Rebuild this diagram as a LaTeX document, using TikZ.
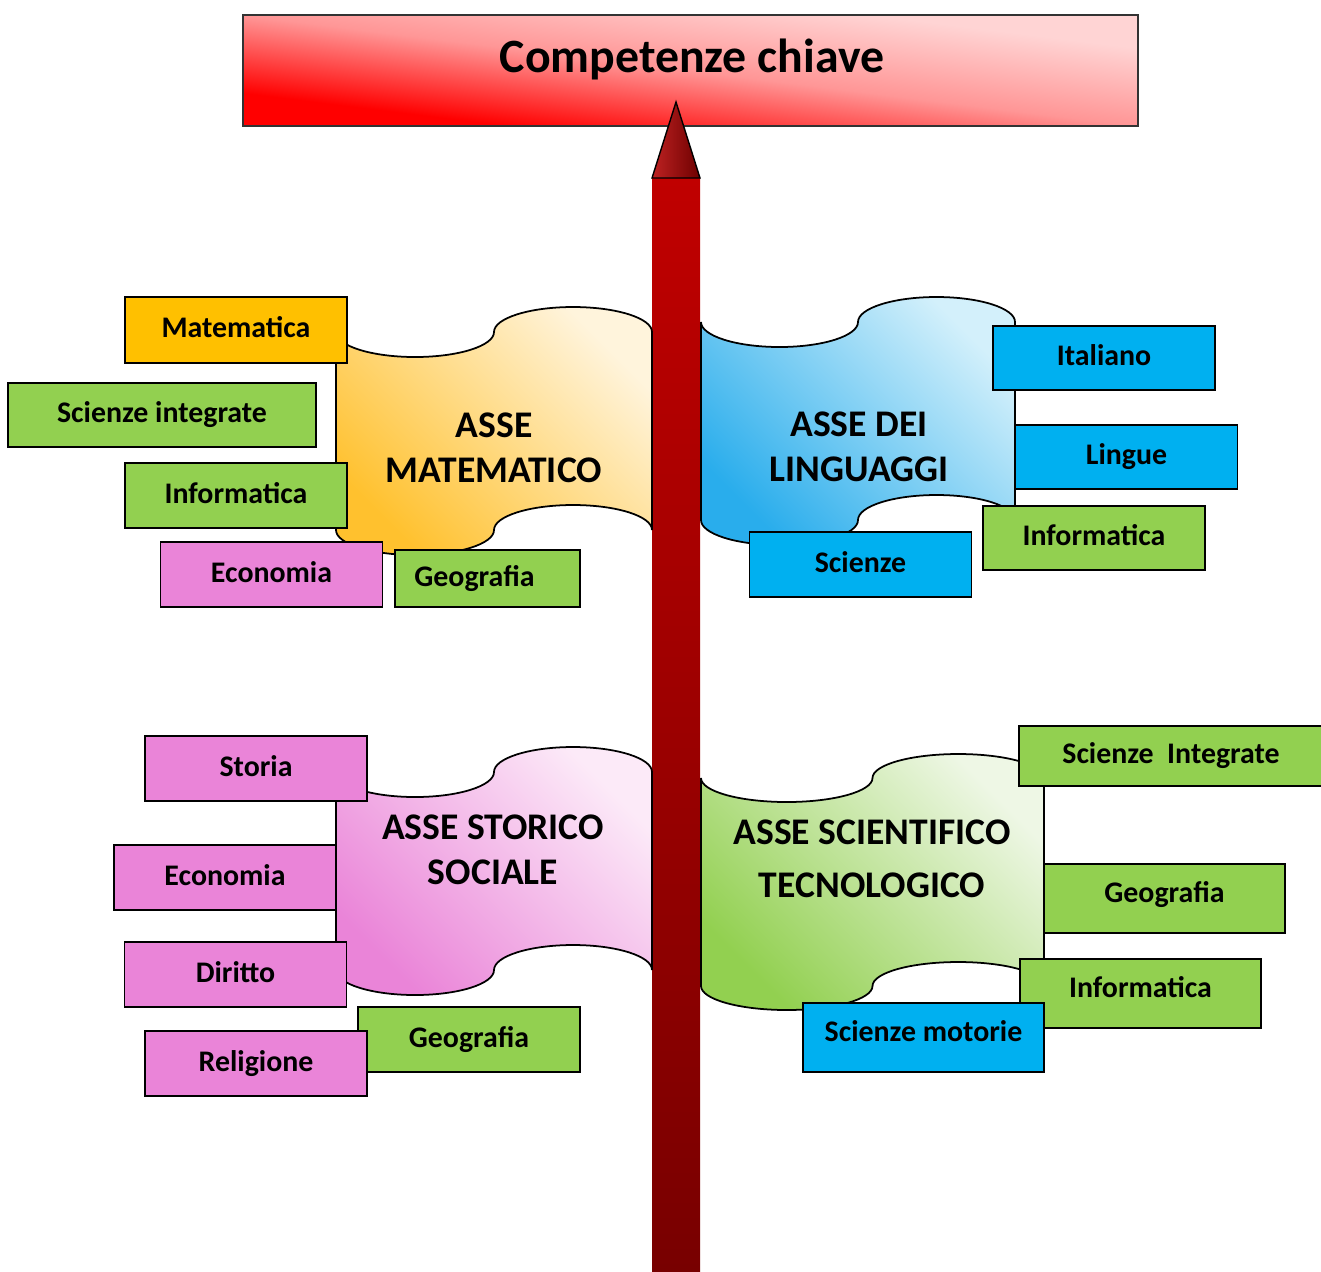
\documentclass[tikz,border=0pt]{standalone}
\usepackage{fontspec}
\setmainfont{Carlito}
\usepackage{xcolor,tikz}
\definecolor{arancio}{HTML}{FFC000}
\definecolor{verde}{HTML}{92D050}
\definecolor{azzurro}{HTML}{00B0F0}
\definecolor{rosa}{HTML}{EA84D8}
\definecolor{matA}{HTML}{FFC12E}
\definecolor{matB}{HTML}{FFF4DC}
\definecolor{linA}{HTML}{29ADEC}
\definecolor{linB}{HTML}{D3F0FB}
\definecolor{stoA}{HTML}{EA84D8}
\definecolor{stoB}{HTML}{FCEAF8}
\definecolor{sciA}{HTML}{92D050}
\definecolor{sciB}{HTML}{EEF7E5}
\definecolor{titA}{HTML}{FF0000}
\definecolor{titB}{HTML}{FF9696}
\definecolor{titC}{HTML}{FFD4D4}
\definecolor{fustoA}{HTML}{C00000}
\definecolor{fustoB}{HTML}{780000}
\definecolor{puntaA}{HTML}{BE2222}
\definecolor{puntaB}{HTML}{6E0000}
\tikzset{voce/.style={draw,line width=0.45pt,inner sep=0pt,minimum width=22.2mm,minimum height=6.5mm,
  font=\bfseries\fontsize{8.5}{10}\selectfont,text height=6.3pt,text depth=2pt}}
\tikzset{asse/.style={font=\bfseries\fontsize{10.7}{12.8}\selectfont,align=center}}

\begin{document}
\begin{tikzpicture}[x=0.1mm,y=-0.1mm]
\useasboundingbox (0,0) rectangle (1321,1271);
\begin{scope}[transform canvas={xscale=8.063}]
\shade[bottom color=titA,top color=titC,middle color=titB,shading angle=-45] (30.14,15) rectangle (141.14,126);
\end{scope}
\node[draw=black!80,line width=0.5pt,minimum width=89.5mm,minimum height=11.1mm] (cartello) at (690.5,70.5) {};
\node[anchor=base,font=\bfseries\fontsize{13.6}{16}\selectfont] (titolo) at (692,72) {Competenze chiave};
\shade[top color=fustoA,bottom color=fustoB] (652,178) rectangle (700,1271);
\shadedraw[left color=puntaA,right color=puntaB,line width=0.4pt] (652,178) -- (676,102) -- (700,178) -- cycle;
\foreach \l/\r/\m/\h/\a/\ca/\cb in {336/652/332/198/25/matA/matB,701/1015/322/198/25/linA/linB,336/652/772/198/25/stoA/stoB,701/1044/778/208/24/sciA/sciB} {
\shadedraw[line width=0.5pt,bottom color=\ca,top color=\cb,shading angle=-45] (\l,\m)
  arc[start angle=180,end angle=0,x radius={(\r-\l)/4},y radius=\a]
  arc[start angle=180,end angle=360,x radius={(\r-\l)/4},y radius=\a] -- (\r,\m+\h)
  arc[start angle=0,end angle=-180,x radius={(\r-\l)/4},y radius=\a]
  arc[start angle=0,end angle=180,x radius={(\r-\l)/4},y radius=\a] -- cycle;
};
\node[asse] (mat) at (494,448) {ASSE\\MATEMATICO};
\node[asse] (lin) at (859,446.5) {ASSE DEI\\LINGUAGGI};
\node[asse] (sto) at (493,850) {ASSE STORICO\\SOCIALE};
\node[asse,font=\bfseries\fontsize{10.7}{15.1}\selectfont] (sci) at (872,859) {ASSE SCIENTIFICO\\TECNOLOGICO};
\node[voce,fill=arancio,minimum height=6.6mm] (matematica) at (236,330) {Matematica};
\node[voce,fill=verde,minimum width=30.8mm,minimum height=6.4mm] (integrate) at (162,415) {Scienze integrate};
\node[voce,fill=verde] (info1) at (236,495.5) {Informatica};
\node[voce,fill=rosa] (econ1) at (271.5,574.5) {Economia};
\node[voce,fill=verde,minimum width=18.5mm,minimum height=5.7mm] (geo1) at (487.5,578.5) {Geografia\hspace*{2.6mm}};
\node[voce,fill=azzurro,minimum height=6.4mm] (italiano) at (1104,358) {Italiano};
\node[voce,fill=azzurro,minimum height=6.4mm] (lingue) at (1126.5,457) {Lingue};
\node[voce,fill=verde,minimum height=6.4mm] (info2) at (1094,538) {Informatica};
\node[voce,fill=azzurro] (scienze) at (860.5,564.5) {Scienze};
\node[voce,fill=rosa] (storia) at (256,768.5) {Storia};
\node[voce,fill=rosa] (econ2) at (225,877.5) {Economia};
\node[voce,fill=rosa] (diritto) at (235.5,974.5) {Diritto};
\node[voce,fill=verde] (geo2) at (469,1039.5) {Geografia};
\node[voce,fill=rosa] (religione) at (256,1063.5) {Religione};
\node[voce,fill=verde,minimum width=30.4mm,minimum height=6mm] (integrate2) at (1171,756) {Scienze~~Integrate};
\node[voce,fill=verde,minimum width=24.1mm,minimum height=6.9mm,text depth=4.3pt] (geo3) at (1164.5,898.5) {Geografia};
\node[voce,fill=verde,minimum width=24.1mm,minimum height=6.9mm,text depth=4.3pt] (info3) at (1140.5,993.5) {Informatica};
\node[voce,fill=azzurro,minimum width=24.1mm,minimum height=6.9mm,text depth=4.3pt] (motorie) at (923.5,1037.5) {Scienze motorie};
\end{tikzpicture}
\end{document}
